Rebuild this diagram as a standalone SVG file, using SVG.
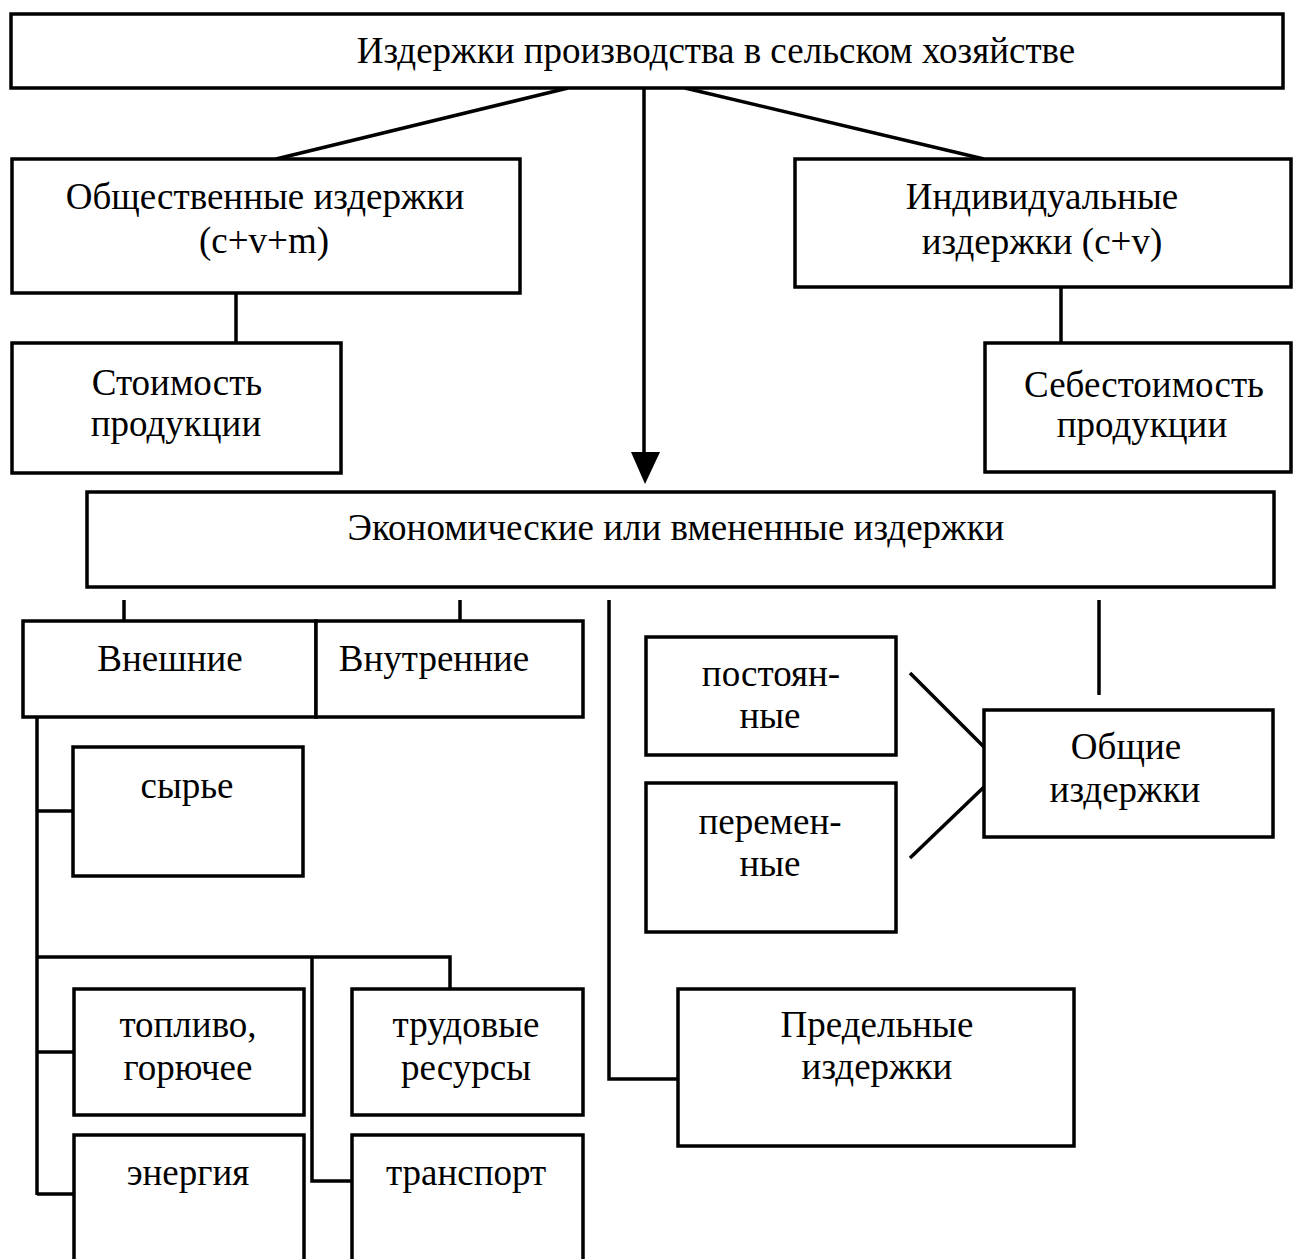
<svg xmlns="http://www.w3.org/2000/svg" width="1294" height="1259" viewBox="0 0 1294 1259">
<style>
rect.box{fill:#fff;stroke:#000;stroke-width:3.5}
text{font-family:"Liberation Serif","Times New Roman",serif;font-size:37px;fill:#000;text-anchor:middle}
#connectors line,#connectors polyline{stroke:#000;stroke-width:3.5;fill:none}
</style>
<rect width="1294" height="1259" fill="#fff"/>
<g id="connectors">
<line x1="568" y1="88" x2="276" y2="159"/>
<line x1="685" y1="88" x2="984" y2="159"/>
<line x1="644" y1="88" x2="644" y2="458"/>
<polygon points="631,452 660,452 645,484" fill="#000"/>
<line x1="236" y1="293" x2="236" y2="343"/>
<line x1="1061" y1="287" x2="1061" y2="343"/>
<line x1="124" y1="600" x2="124" y2="621"/>
<line x1="460" y1="600" x2="460" y2="621"/>
<line x1="1099" y1="600" x2="1099" y2="695"/>
<polyline points="609,600 609,1079 678,1079"/>
<line x1="910" y1="673" x2="984" y2="747"/>
<line x1="910" y1="858" x2="984" y2="787"/>
<line x1="37" y1="717" x2="37" y2="1195"/>
<line x1="37" y1="811" x2="73" y2="811"/>
<line x1="37" y1="1052" x2="74" y2="1052"/>
<line x1="37" y1="1194" x2="74" y2="1194"/>
<polyline points="37,957 450,957 450,989"/>
<polyline points="312,957 312,1181 352,1181"/>
</g>
<g id="n-top"><rect class="box" x="11" y="14" width="1272" height="74"/><text x="716" y="63">Издержки производства в сельском хозяйстве</text></g>
<g id="n-obsh"><rect class="box" x="12" y="159" width="508" height="134"/><text x="265" y="209">Общественные издержки</text><text x="264" y="253">(c+v+m)</text></g>
<g id="n-ind"><rect class="box" x="795" y="159" width="496" height="128"/><text x="1042" y="209">Индивидуальные</text><text x="1042" y="254">издержки (c+v)</text></g>
<g id="n-stoim"><rect class="box" x="12" y="343" width="329" height="130"/><text x="177" y="395">Стоимость</text><text x="176" y="436">продукции</text></g>
<g id="n-sebest"><rect class="box" x="985" y="343" width="306" height="129"/><text x="1144" y="397">Себестоимость</text><text x="1142" y="437">продукции</text></g>
<g id="n-econ"><rect class="box" x="87" y="492" width="1187" height="95"/><text x="676" y="540">Экономические или вмененные издержки</text></g>
<g id="n-vnesh"><rect class="box" x="23" y="621" width="293" height="96"/><text x="170" y="671">Внешние</text></g>
<g id="n-vnutr"><rect class="box" x="316" y="621" width="267" height="96"/><text x="434" y="671">Внутренние</text></g>
<g id="n-syrye"><rect class="box" x="73" y="747" width="230" height="129"/><text x="187" y="798">сырье</text></g>
<g id="n-post"><rect class="box" x="646" y="637" width="250" height="118"/><text x="771" y="686">постоян-</text><text x="770" y="728">ные</text></g>
<g id="n-perem"><rect class="box" x="646" y="783" width="250" height="149"/><text x="770" y="834">перемен-</text><text x="770" y="876">ные</text></g>
<g id="n-obshie"><rect class="box" x="984" y="710" width="289" height="127"/><text x="1126" y="759">Общие</text><text x="1125" y="802">издержки</text></g>
<g id="n-topl"><rect class="box" x="74" y="989" width="230" height="126"/><text x="188" y="1037">топливо,</text><text x="188" y="1080">горючее</text></g>
<g id="n-trud"><rect class="box" x="352" y="989" width="231" height="126"/><text x="466" y="1037">трудовые</text><text x="466" y="1080">ресурсы</text></g>
<g id="n-energ"><rect class="box" x="74" y="1135" width="230" height="140"/><text x="188" y="1185">энергия</text></g>
<g id="n-transp"><rect class="box" x="352" y="1135" width="231" height="140"/><text x="466" y="1185">транспорт</text></g>
<g id="n-pred"><rect class="box" x="678" y="989" width="396" height="157"/><text x="877" y="1037">Предельные</text><text x="877" y="1079">издержки</text></g>
</svg>
